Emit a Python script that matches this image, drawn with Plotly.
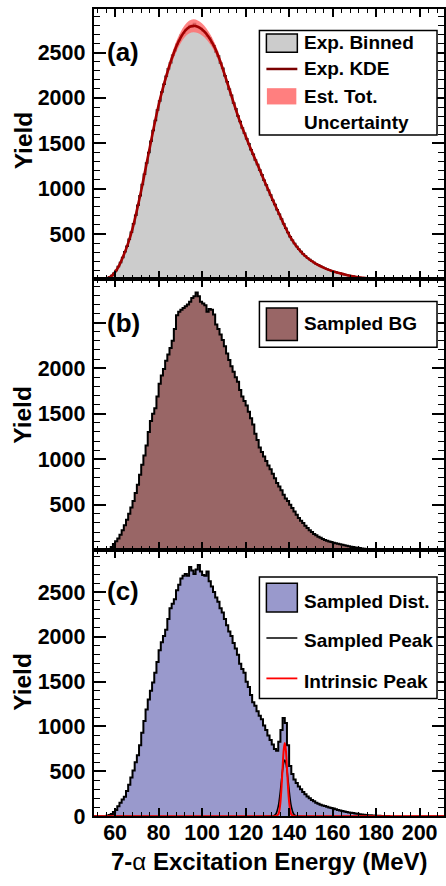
import numpy as np
import plotly.graph_objects as go

W, H = 446, 886
FONT = "Liberation Sans"

# ---------------- data ----------------
BIN_W = 1.0  # MeV per histogram bin

# (a) experimental spectrum, 1 MeV bins starting at 52 MeV
exp_lo = 52
exp_binned = [
    0, 2, 3, 6, 13, 25, 42, 66, 98, 142,
    186, 240, 304, 366, 442, 519, 612, 708, 818, 922,
    1045, 1158, 1282, 1398, 1522, 1640, 1752, 1868, 1965, 2065,
    2150, 2240, 2322, 2388, 2470, 2522, 2590, 2632, 2690, 2712,
    2755, 2762, 2800, 2778, 2820, 2785, 2780, 2768, 2738, 2722,
    2680, 2660, 2605, 2575, 2510, 2462, 2385, 2328, 2245, 2178,
    2095, 2030, 1945, 1880, 1800, 1740, 1668, 1612, 1550, 1494,
    1430, 1378, 1316, 1265, 1205, 1152, 1092, 1040, 982, 930,
    873, 824, 768, 718, 664, 614, 562, 516, 470, 432,
    394, 362, 332, 306, 279, 258, 236, 218, 200, 186,
    170, 157, 144, 133, 122, 112, 103, 95, 86, 80,
    73, 67, 60, 54, 48, 43, 38, 33, 28, 24,
    21, 18, 15, 12, 10, 8, 7, 6, 5, 4,
    3, 2, 2, 1, 1, 1, 0,
]

# kernel density estimate on a 2 MeV grid starting at 50 MeV, with its total uncertainty
kde_lo = 50
kde_step = 2
exp_kde = [
    0, 0, 2, 8, 30, 80, 160, 270, 400, 560,
    760, 980, 1220, 1460, 1700, 1920, 2110, 2280, 2430, 2560,
    2660, 2735, 2780, 2795, 2785, 2755, 2705, 2635, 2545, 2425,
    2285, 2135, 1985, 1835, 1700, 1580, 1460, 1345, 1235, 1120,
    1010, 900, 795, 690, 585, 490, 410, 345, 290, 245,
    208, 177, 150, 127, 107, 90, 76, 63, 51, 40,
    30, 22, 16, 11, 7, 5, 3, 2, 1, 0,
    0, 0, 0, 0, 0, 0, 0, 0, 0, 0,
    0, 0,
]
kde_unc = [
    0, 2, 3, 5, 8, 12, 15, 18, 20, 22,
    25, 28, 30, 32, 35, 38, 42, 48, 52, 58,
    62, 66, 70, 72, 70, 66, 60, 55, 50, 45,
    40, 37, 34, 32, 30, 28, 26, 25, 24, 22,
    21, 20, 19, 18, 17, 16, 15, 14, 13, 12,
    11, 10, 9, 8, 8, 7, 6, 6, 5, 5,
    4, 4, 3, 3, 2, 2, 2, 1, 1, 1,
    0, 0, 0, 0, 0, 0, 0, 0, 0, 0,
    0, 0,
]

# (b) sampled background, 1 MeV bins starting at 55 MeV
bg_lo = 55
sampled_bg = [
    0, 5, 15, 35, 70, 100, 130, 170, 220, 275,
    335, 400, 470, 540, 630, 720, 830, 940, 1040, 1150,
    1300, 1420, 1500, 1560, 1690, 1830, 1920, 1990, 2080, 2150,
    2220, 2300, 2430, 2580, 2620, 2640, 2660, 2680, 2700, 2730,
    2770, 2790, 2830, 2790, 2730, 2710, 2690, 2620, 2650, 2640,
    2590, 2480, 2430, 2370, 2310, 2240, 2160, 2090, 2020, 1960,
    1900, 1850, 1760, 1690, 1640, 1590, 1520, 1450, 1380, 1280,
    1210, 1130, 1080, 1030, 980, 930, 890, 840, 790, 740,
    700, 660, 610, 570, 540, 500, 465, 425, 390, 355,
    325, 300, 270, 245, 220, 200, 180, 165, 150, 138,
    125, 113, 105, 97, 90, 84, 78, 72, 66, 60,
    55, 50, 45, 40, 35, 31, 28, 25, 21, 18,
    15, 12, 10, 8, 6, 5, 4, 3, 2, 2,
    1, 1, 0,
]

# (c) sampled distribution (background + peak), 1 MeV bins starting at 55 MeV
dist_lo = 55
sampled_dist = [
    0, 4, 12, 25, 45, 70, 110, 150, 185, 215,
    280, 350, 430, 510, 600, 680, 790, 930, 1060, 1190,
    1300, 1400, 1490, 1600, 1720, 1850, 1940, 2010, 2080, 2200,
    2320, 2370, 2420, 2520, 2580, 2650, 2680, 2700, 2680, 2780,
    2740, 2700, 2750, 2800, 2730, 2690, 2680, 2730, 2620, 2560,
    2500, 2440, 2390, 2320, 2270, 2200, 2130, 2060, 2010, 1930,
    1870, 1800, 1700, 1640, 1600, 1500, 1440, 1350, 1270, 1230,
    1170, 1120, 1080, 1010, 960, 900, 850, 800, 750, 730,
    830, 960, 1095, 1040, 790, 560, 470, 410, 370, 330,
    300, 270, 245, 220, 200, 180, 165, 150, 138, 128,
    120, 112, 104, 96, 90, 84, 78, 70, 63, 57,
    52, 47, 42, 38, 34, 30, 26, 22, 19, 16,
    14, 11, 9, 7, 6, 5, 4, 3, 2, 1,
    1, 0,
]

# peak line shapes in (c)
peak_e = [50, 132, 133, 134, 135, 135.5, 136, 136.5, 137, 137.5, 138,
          138.5, 139, 139.5, 140, 140.5, 141, 142, 143, 144, 212]
sampled_peak = [0, 0.5, 4.5, 27, 108, 184, 286, 403, 515, 596, 625,
                596, 515, 403, 286, 184, 108, 27, 4.5, 0.5, 0]
intrinsic_peak = [0, 0, 0, 1, 20, 62, 156, 321, 541, 735, 815,
                  735, 541, 321, 156, 62, 20, 1, 0, 0, 0]

# axis settings
x_range = [50.2, 211.2]
y_tops = [2982, 2975, 2965]
y_ticks = [0, 500, 1000, 1500, 2000, 2500]
y_text = [
    ["", "500", "1000", "1500", "2000", "2500"],
    ["", "500", "1000", "1500", "2000", ""],
    ["0", "500", "1000", "1500", "2000", "2500"],
]

# ---------------- figure ----------------
def px(x):
    return x / W

def py(y):
    return 1 - y / H

def centers(lo, vals):
    return lo + BIN_W * (np.arange(len(vals)) + 0.5)

fig = go.Figure()

# (a)
fig.add_trace(go.Scatter(
    x=centers(exp_lo, exp_binned), y=exp_binned, mode="lines", line_shape="hvh",
    line=dict(color="black", width=1.5), fill="tozeroy", fillcolor="#cccccc",
    xaxis="x", yaxis="y", showlegend=False))
kde_e = kde_lo + kde_step * np.arange(len(exp_kde))
kde = np.array(exp_kde, float)
unc = np.array(kde_unc, float)
fig.add_trace(go.Scatter(
    x=kde_e, y=kde - unc, mode="lines", line=dict(width=0, shape="spline"),
    xaxis="x", yaxis="y", showlegend=False, hoverinfo="skip"))
fig.add_trace(go.Scatter(
    x=kde_e, y=kde + unc, mode="lines", line=dict(width=0, shape="spline"),
    fill="tonexty", fillcolor="rgba(255,110,110,0.85)",
    xaxis="x", yaxis="y", showlegend=False, hoverinfo="skip"))
fig.add_trace(go.Scatter(
    x=kde_e, y=kde, mode="lines", line=dict(color="#a00000", width=2.6, shape="spline"),
    xaxis="x", yaxis="y", showlegend=False))

# (b)
fig.add_trace(go.Scatter(
    x=centers(bg_lo, sampled_bg), y=sampled_bg, mode="lines", line_shape="hvh",
    line=dict(color="black", width=2), fill="tozeroy", fillcolor="#996666",
    xaxis="x2", yaxis="y2", showlegend=False))

# (c)
fig.add_trace(go.Scatter(
    x=centers(dist_lo, sampled_dist), y=sampled_dist, mode="lines", line_shape="hvh",
    line=dict(color="black", width=2), fill="tozeroy", fillcolor="#9999cc",
    xaxis="x3", yaxis="y3", showlegend=False))
fig.add_trace(go.Scatter(
    x=peak_e, y=sampled_peak, mode="lines", line=dict(color="black", width=1.6, shape="spline"),
    xaxis="x3", yaxis="y3", showlegend=False))
fig.add_trace(go.Scatter(
    x=peak_e, y=intrinsic_peak, mode="lines", line=dict(color="#ff0000", width=2, shape="spline"),
    xaxis="x3", yaxis="y3", showlegend=False))

TICKFONT = dict(family=FONT, size=21.5, color="black", weight="bold")

# panel pixel bounds (top, bottom)
panels = [(9, 283.5), (283.5, 558.5), (558.5, 828.3)]

layout = dict(
    width=W, height=H, margin=dict(l=0, r=0, t=0, b=0),
    paper_bgcolor="white", plot_bgcolor="white",
    showlegend=False,
)
for i, (top, bot) in enumerate(panels):
    sfx = "" if i == 0 else str(i + 1)
    layout["xaxis" + sfx] = dict(
        range=x_range, domain=[px(94), px(445)], anchor="y" + sfx,
        showline=True, linecolor="black", linewidth=2, mirror="ticks",
        ticks="inside", ticklen=8, tickwidth=1.5, tickcolor="black",
        tick0=0, dtick=20,
        minor=dict(tick0=0, dtick=4, ticks="inside", ticklen=4, tickwidth=1.2, tickcolor="black"),
        showgrid=False, zeroline=False, showticklabels=(i == 2), tickfont=TICKFONT,
        ticklabelstandoff=-4,
    )
    layout["yaxis" + sfx] = dict(
        range=[0, y_tops[i]], domain=[py(bot), py(top)], anchor="x" + sfx,
        showline=True, linecolor="black", linewidth=2, mirror="ticks",
        ticks="inside", ticklen=12, tickwidth=1.5, tickcolor="black",
        tickmode="array", tickvals=y_ticks, ticktext=y_text[i],
        minor=dict(tick0=0, dtick=100, ticks="inside", ticklen=6, tickwidth=1.2, tickcolor="black"),
        showgrid=False, zeroline=False, tickfont=TICKFONT, ticklabelstandoff=2,
    )
fig.update_layout(**layout)

shapes = []
annotations = []

def label(text, x, y, size=19, xanchor="left", angle=0):
    annotations.append(dict(
        text=text, x=px(x), y=py(y), xref="paper", yref="paper",
        xanchor=xanchor, yanchor="middle", showarrow=False, textangle=angle,
        font=dict(family=FONT, size=size, color="black", weight="bold"),
    ))

def box(x0, y0, x1, y1, fill="white", line="black", lw=1.5):
    shapes.append(dict(
        type="rect", xref="paper", yref="paper",
        x0=px(x0), x1=px(x1), y0=py(y1), y1=py(y0),
        fillcolor=fill, line=dict(color=line, width=lw), layer="above",
    ))

def hline(x0, x1, y, color, lw):
    shapes.append(dict(
        type="line", xref="paper", yref="paper",
        x0=px(x0), x1=px(x1), y0=py(y), y1=py(y),
        line=dict(color=color, width=lw), layer="above",
    ))

# panel letters
label("(a)", 105, 53, size=26)
label("(b)", 105, 328, size=26)
label("(c)", 105, 600, size=26)

# y titles
for yc in (142.5, 421, 692):
    label("Yield", 23, yc, size=24.5, xanchor="center", angle=-90)

# x title
label("7-<span style=\"font-weight:normal\">α</span> Excitation Energy (MeV)",
      270, 874, size=24, xanchor="center")

# legend (a)
box(260, 31, 438, 137)
box(267, 34.5, 298, 53, fill="#cccccc", lw=1.5)
label("Exp. Binned", 303, 43.5)
hline(267, 298, 70, "#7a0000", 2.5)
label("Exp. KDE", 303, 70)
box(267.5, 89.5, 297, 106, fill="#ff7f7f", line="#ff7f7f", lw=0)
label("Est. Tot.", 303, 97.5)
label("Uncertainty", 303, 124)

# legend (b)
box(260, 306, 438, 352.5)
box(267, 312.5, 298, 345.5, fill="#996666", lw=1.5)
label("Sampled BG", 303, 328)

# legend (c)
box(260, 585.5, 438, 709)
box(267, 592, 298, 621, fill="#9999cc", lw=1.5)
label("Sampled Dist.", 303, 610)
hline(267, 298, 647.5, "black", 1.5)
label("Sampled Peak", 303, 650)
hline(267, 298, 688.5, "#ff0000", 1.8)
label("Intrinsic Peak", 303, 691.5)

fig.update_layout(shapes=shapes, annotations=annotations)
fig.write_html("out.html")
